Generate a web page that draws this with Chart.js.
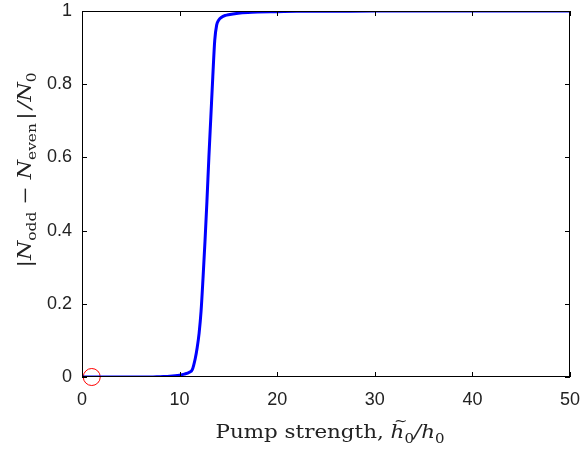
<!DOCTYPE html>
<html>
<head>
<meta charset="utf-8">
<script src="https://cdn.jsdelivr.net/npm/chart.js@4/dist/chart.umd.min.js"></script>
<style>
html,body{margin:0;padding:0;background:#fff;}
#c{display:block;}
</style>
</head>
<body>
<canvas id="c" width="583" height="451"></canvas>
<script>
const pumpStrength = [0,1,2,3,4,5,6,7,8,9,10,10.5,11,11.3,11.6,11.8,12,12.2,12.4,12.6,12.8,13,13.2,13.4,13.6,13.8,14,14.3,14.7,15,16,17,18,20,22,25,30,35,40,45,50];
const imbalance = [0,0,0,0,0,0,0,0,0.001,0.002,0.005,0.008,0.013,0.02,0.05,0.08,0.12,0.18,0.27,0.37,0.48,0.6,0.71,0.82,0.92,0.962,0.975,0.983,0.988,0.99,0.994,0.996,0.997,0.998,0.999,0.999,1,1,1,1,1];
const markerPoint = [{x:1, y:0}];
const xTicks = [0,10,20,30,40,50];
const yTicks = [0,0.2,0.4,0.6,0.8,1];

const curve = pumpStrength.map((x,i)=>({x:x, y:imbalance[i]}));

function drawRich(ctx, segs, cx, cy, size, targetW){
  let total = 0;
  const fonts = segs.map(s=>{
    const sz = s.sub ? size*0.7 : size;
    return (s.italic?'italic ':'') + sz + 'px "DejaVu Serif", "Liberation Serif", serif';
  });
  const widths = segs.map((s,i)=>{ ctx.font = fonts[i]; const w = ctx.measureText(s.t).width + (s.gap||0)*size; total += w; return w; });
  const sx = targetW ? targetW/total : 1;
  ctx.save();
  ctx.translate(cx - total*sx/2, cy);
  ctx.scale(sx, 1);
  let x = 0;
  ctx.textBaseline = 'alphabetic';
  ctx.textAlign = 'left';
  segs.forEach((s,i)=>{
    ctx.font = fonts[i];
    const dy = s.sub ? size*0.25 : 0;
    ctx.fillText(s.t, x, dy);
    if (s.tilde){
      ctx.font = size*0.75 + 'px "DejaVu Serif", serif';
      ctx.fillText('~', x + widths[i]*0.25, -size*0.72);
    }
    x += widths[i];
  });
  ctx.restore();
}

const framePlugin = {
  id:'frame',
  afterDatasetsDraw(chart){
    const ctx = chart.ctx, a = chart.chartArea;
    const xs = chart.scales.x, ys = chart.scales.y;
    ctx.save();
    ctx.strokeStyle = '#000';
    ctx.lineWidth = 1;
    ctx.strokeRect(a.left+0.5, a.top+0.5, a.right-a.left-1, a.bottom-a.top-1);
    const L = 5;
    ctx.beginPath();
    xTicks.forEach(v=>{
      const px = Math.round(xs.getPixelForValue(v))+0.5;
      ctx.moveTo(px, a.bottom); ctx.lineTo(px, a.bottom-L);
      ctx.moveTo(px, a.top); ctx.lineTo(px, a.top+L);
    });
    yTicks.forEach(v=>{
      const py = Math.round(ys.getPixelForValue(v))+0.5;
      ctx.moveTo(a.left, py); ctx.lineTo(a.left+L, py);
      ctx.moveTo(a.right, py); ctx.lineTo(a.right-L, py);
    });
    ctx.stroke();
    ctx.restore();
  },
  afterDraw(chart){
    const ctx = chart.ctx;
    ctx.save();
    ctx.fillStyle = '#222';
    drawRich(ctx, [
      {t:'Pump strength, '},
      {t:'h', italic:true, tilde:true},
      {t:'0', sub:true},
      {t:'/', italic:true},
      {t:'h', italic:true},
      {t:'0', sub:true}
    ], 330, 438, 18, 229);
    ctx.translate(31, 170);
    ctx.rotate(-Math.PI/2);
    drawRich(ctx, [
      {t:'|'},
      {t:'N', italic:true},
      {t:'odd', sub:true},
      {t:' \u2212 '},
      {t:'N', italic:true},
      {t:'even', sub:true, gap:0.15},
      {t:'|', gap:0.15},
      {t:'/', italic:true},
      {t:'N', italic:true},
      {t:'0', sub:true}
    ], 0, 0, 18, 195);
    ctx.restore();
  }
};

new Chart(document.getElementById('c'), {
  type:'scatter',
  data:{
    datasets:[
      {
        data: curve,
        showLine:true,
        borderColor:'#0000ff',
        borderWidth:3,
        pointRadius:0,
        fill:false,
        cubicInterpolationMode:'monotone'
      },
      {
        data: markerPoint,
        showLine:false,
        pointRadius:8.5,
        pointStyle:'circle',
        borderColor:'#ff0000',
        backgroundColor:'rgba(0,0,0,0)',
        borderWidth:1,
        clip:false
      }
    ]
  },
  options:{
    responsive:false,
    animation:false,
    devicePixelRatio:1,
    layout:{padding:{left:0, top:11, right:13, bottom:0}},
    plugins:{legend:{display:false}, tooltip:{enabled:false}},
    scales:{
      x:{
        type:'linear', min:0, max:50,
        afterBuildTicks(s){ s.ticks = xTicks.map(v=>({value:v})); },
        afterFit(s){ s.height = 74; s.paddingLeft = 0; s.paddingRight = 0; },
        grid:{display:false, drawTicks:false},
        border:{display:false},
        ticks:{color:'#222', padding:12, font:{family:'"Liberation Sans", Arial, sans-serif', size:18}, maxRotation:0}
      },
      y:{
        type:'linear', min:0, max:1,
        afterBuildTicks(s){ s.ticks = yTicks.map(v=>({value:v})); },
        afterFit(s){ s.width = 82; s.paddingTop = 0; s.paddingBottom = 0; },
        grid:{display:false, drawTicks:false},
        border:{display:false},
        ticks:{color:'#222', padding:10, font:{family:'"Liberation Sans", Arial, sans-serif', size:18},
          callback:(v)=> v===0 ? '0' : (v===1 ? '1' : String(v))}
      }
    }
  },
  plugins:[framePlugin]
});
</script>
</body>
</html>
